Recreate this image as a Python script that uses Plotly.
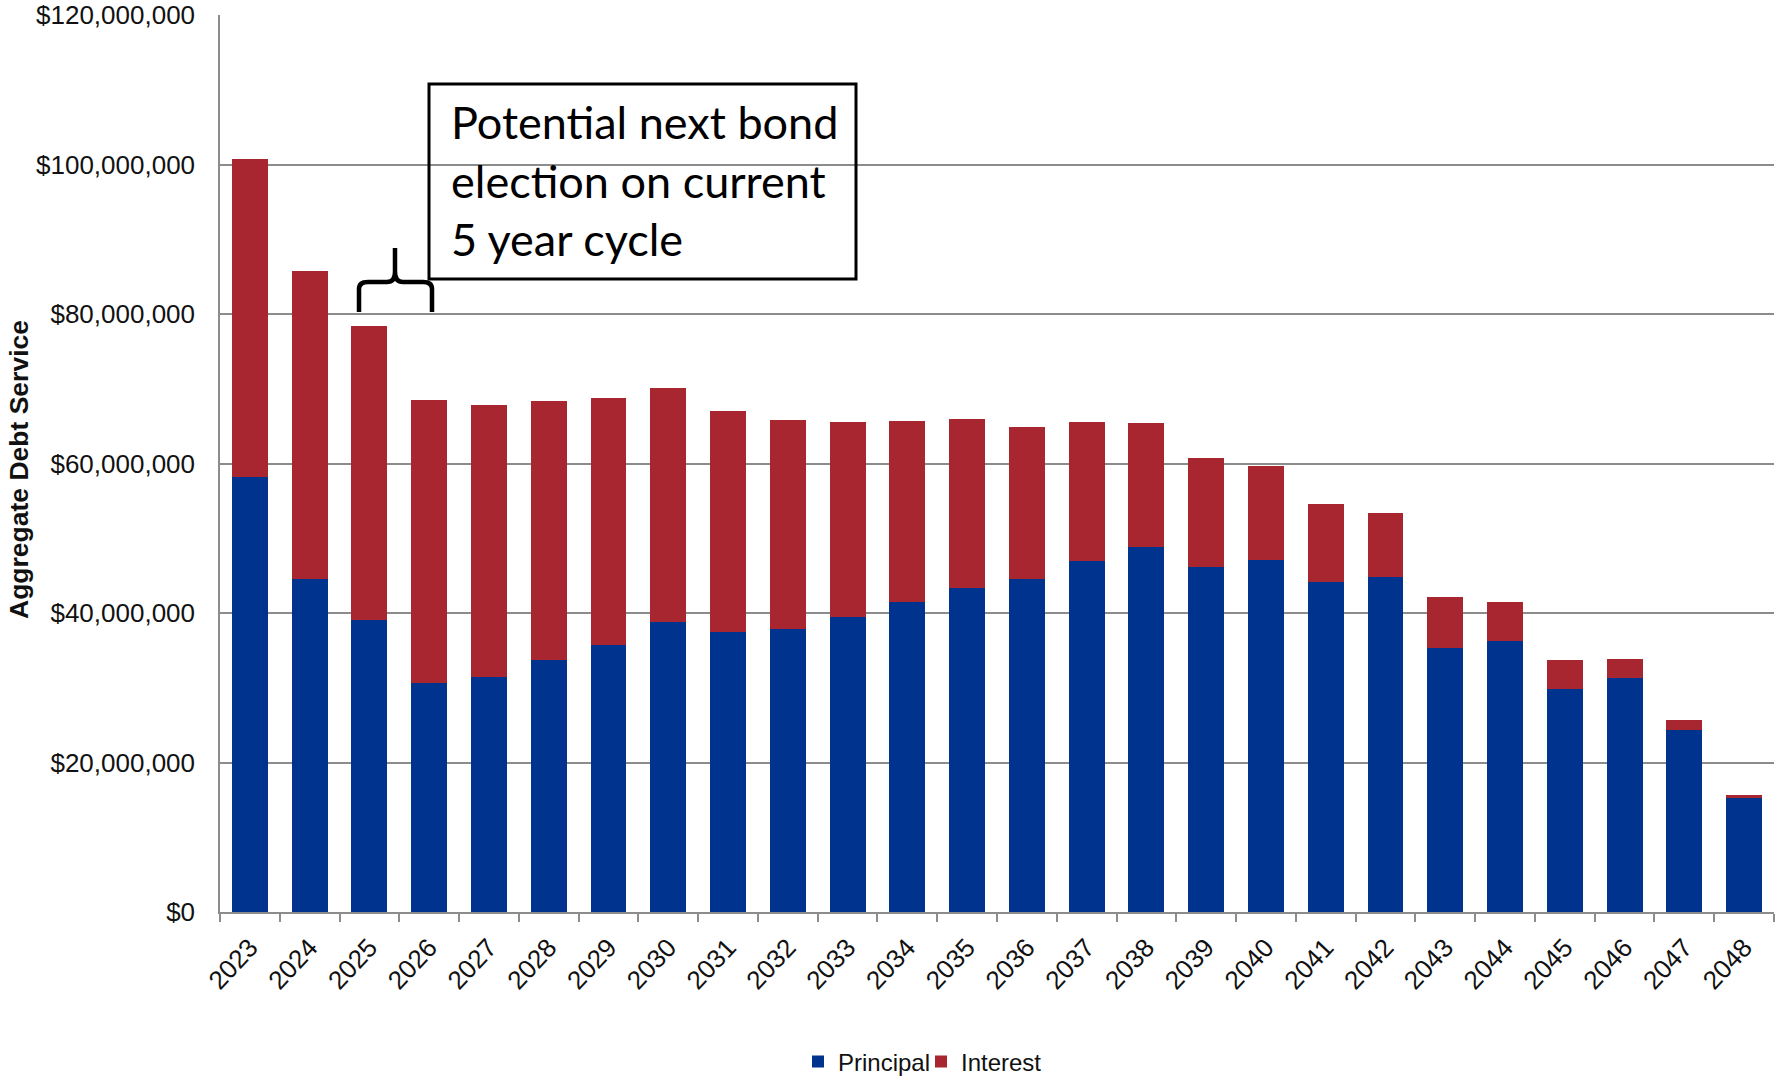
import plotly.graph_objects as go

years = [str(y) for y in range(2023, 2049)]
principal_m = [58.2, 44.6, 39.1, 30.7, 31.5, 33.7, 35.7, 38.8, 37.5, 37.9, 39.4, 41.5, 43.4,
               44.5, 46.9, 48.8, 46.1, 47.1, 44.1, 44.8, 35.3, 36.3, 29.8, 31.3, 24.4, 15.3]
total_m = [100.8, 85.8, 78.4, 68.5, 67.8, 68.3, 68.8, 70.1, 67.0, 65.8, 65.5, 65.7, 65.9,
           64.9, 65.5, 65.4, 60.7, 59.7, 54.6, 53.4, 42.1, 41.5, 33.7, 33.8, 25.7, 15.7]
principal = [p * 1e6 for p in principal_m]
interest = [(t - p) * 1e6 for t, p in zip(total_m, principal_m)]

NAVY = "#00338D"
RED = "#A8262F"
GRID = "#8c8c8c"

W, H = 1776, 1076
L, R, T, B = 220, 2, 15, 164
PW, PH = W - L - R, H - T - B


def px2paper(x, y):
    return (x - L) / PW, (H - B - y) / PH


fig = go.Figure()
fig.add_trace(go.Bar(x=years, y=principal, name="Principal", marker=dict(color=NAVY, line=dict(width=0))))
fig.add_trace(go.Bar(x=years, y=interest, name="Interest", marker=dict(color=RED, line=dict(width=0))))

# annotation box
bx0, by0 = px2paper(429, 84)
bx1, by1 = px2paper(856, 279)
fig.add_shape(type="rect", xref="paper", yref="paper", x0=bx0, y0=by0, x1=bx1, y1=by1,
              line=dict(color="black", width=3), fillcolor="rgba(0,0,0,0)", layer="above")
tx, ty = px2paper(449, 180)
fig.add_annotation(xref="paper", yref="paper", x=tx, y=ty, xanchor="left", yanchor="middle",
                   text="Potential next bond<br>election on current<br>5 year cycle",
                   showarrow=False, align="left",
                   font=dict(family="Lato, Carlito, sans-serif", size=45, color="black"))

# curly brace
pts = {
    "a": (359, 312), "b": (359, 289), "c": (368, 282), "d": (387, 282), "e": (395, 272),
    "f": (395, 248), "g": (403, 282), "h": (423, 282), "i": (432, 289), "j": (432, 312),
}
P = {k: px2paper(*v) for k, v in pts.items()}


def s(k):
    return f"{P[k][0]:.5f},{P[k][1]:.5f}"


q1 = px2paper(359, 282)
q2 = px2paper(395, 282)
q3 = px2paper(432, 282)
path = (f"M{s('a')} L{s('b')} Q{q1[0]:.5f},{q1[1]:.5f} {s('c')} L{s('d')} "
        f"Q{q2[0]:.5f},{q2[1]:.5f} {s('e')} L{s('f')} M{s('e')} "
        f"Q{q2[0]:.5f},{q2[1]:.5f} {s('g')} L{s('h')} Q{q3[0]:.5f},{q3[1]:.5f} {s('i')} L{s('j')}")
fig.add_shape(type="path", xref="paper", yref="paper", path=path,
              line=dict(color="black", width=4.5), layer="above")

# y-axis title
ax, ay = px2paper(19, 470)
fig.add_annotation(xref="paper", yref="paper", x=ax, y=ay, xanchor="center", yanchor="middle",
                   text="<b>Aggregate Debt Service</b>", textangle=-90, showarrow=False,
                   font=dict(family="Liberation Sans, Arial, sans-serif", size=26.5, color="#111111"))

lx, ly = px2paper(798, 1062)
fig.update_layout(
    width=W, height=H,
    margin=dict(l=L, r=R, t=T, b=B, autoexpand=False),
    barmode="stack", bargap=0.4,
    plot_bgcolor="white", paper_bgcolor="white",
    font=dict(family="Liberation Sans, Arial, sans-serif", size=26, color="#111111"),
    showlegend=True,
    legend=dict(orientation="h", x=lx, y=ly, xanchor="left", yanchor="middle",
                font=dict(size=24), traceorder="normal", itemwidth=30,
                entrywidth=78, entrywidthmode="pixels",
                bgcolor="rgba(0,0,0,0)"),
    xaxis=dict(type="category", showgrid=False, showline=True, linecolor=GRID, linewidth=1.5,
               ticks="outside", tickson="boundaries", ticklen=8, tickcolor=GRID, tickwidth=1.5,
               tickangle=-47, ticklabelstandoff=8, tickfont=dict(size=26)),
    yaxis=dict(range=[0, 120e6], dtick=20e6, tickprefix="$", tickformat=",d",
               showgrid=True, gridcolor=GRID, gridwidth=1.5, showline=True, linecolor=GRID,
               linewidth=1.5, ticks="", ticklabelstandoff=18, zeroline=False,
               tickfont=dict(size=26)),
)

fig.write_html("out.html")
